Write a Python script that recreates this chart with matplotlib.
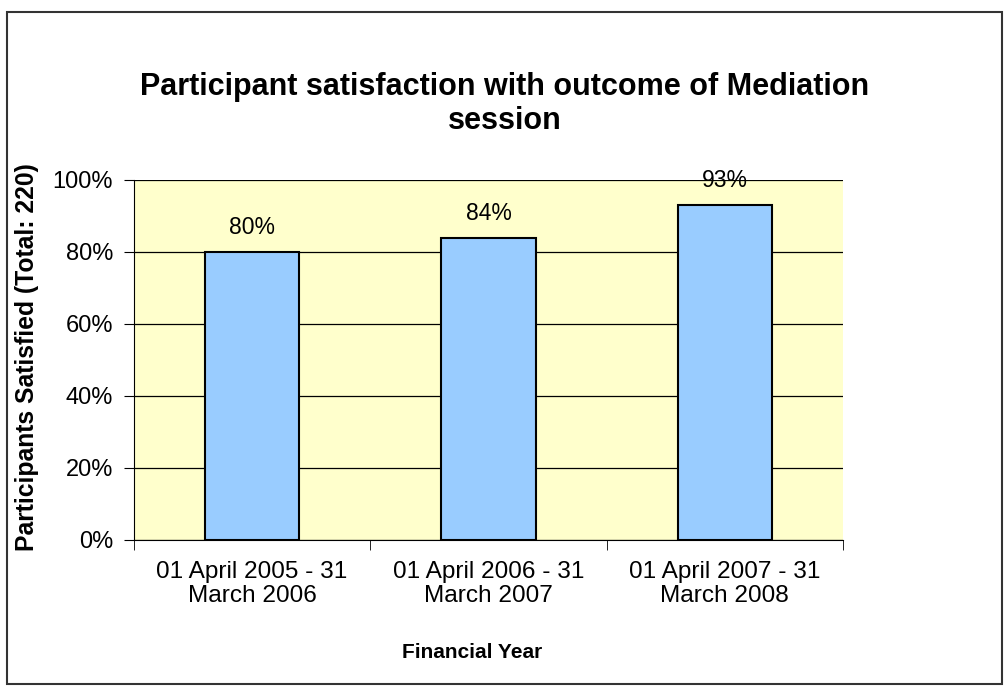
import matplotlib.pyplot as plt
from matplotlib.patches import Rectangle
import numpy as np

plt.rcParams['font.family'] = ['Liberation Sans', 'DejaVu Sans']

categories = ['01 April 2005 - 31\nMarch 2006', '01 April 2006 - 31\nMarch 2007', '01 April 2007 - 31\nMarch 2008']
satisfied = [80, 84, 93]
yticks = [0, 20, 40, 60, 80, 100]

fig = plt.figure(figsize=(10.05, 6.86), dpi=100)
fig.patches.append(Rectangle((7 / 1005, 2 / 686), 995 / 1005, 672 / 686, transform=fig.transFigure,
                             fill=False, edgecolor='#333333', linewidth=1.5))

ax = fig.add_axes([134 / 1005, 1 - 540 / 686, (843 - 134) / 1005, 360 / 686])
ax.set_facecolor('#FFFFCC')
x = np.arange(len(categories))
ax.bar(x, satisfied, width=0.4, color='#99CCFF', edgecolor='black', linewidth=1.5, zorder=3)
for xi, v in zip(x, satisfied):
    ax.annotate(f'{v}%', (xi, v), xytext=(0, 17.5), textcoords='offset points',
                ha='center', va='center', fontsize=16.5)

ax.set_xlim(-0.5, 2.5)
ax.set_ylim(0, 100)
ax.set_yticks(yticks)
ax.set_yticklabels([f'{t}%' for t in yticks], fontsize=17)
ax.yaxis.grid(True, color='black', linewidth=0.9, zorder=1)
ax.set_xticks(x)
ax.set_xticklabels(categories, fontsize=17.6, linespacing=1.12)
ax.tick_params(axis='x', length=0, pad=15)
ax.set_xticks([-0.5, 0.5, 1.5, 2.5], minor=True)
ax.tick_params(axis='x', which='minor', length=7, direction='out')
ax.tick_params(axis='y', length=7, direction='out', pad=8)
for s in ['top', 'right']:
    ax.spines[s].set_visible(False)

ax.set_xlabel('Financial Year', fontsize=15, fontweight='bold', va='center')
ax.xaxis.set_label_coords(338 / 709, -112 / 360)
ax.set_ylabel('Participants Satisfied (Total: 220)', fontsize=17.8, fontweight='bold', va='center')
ax.yaxis.set_label_coords(-107 / 709, 183 / 360)
fig.text(0.502, 1 - 104 / 686, 'Participant satisfaction with outcome of Mediation\nsession',
         ha='center', va='center', fontsize=22, fontweight='bold', linespacing=1.15)

fig.savefig('out.png', dpi=100)
